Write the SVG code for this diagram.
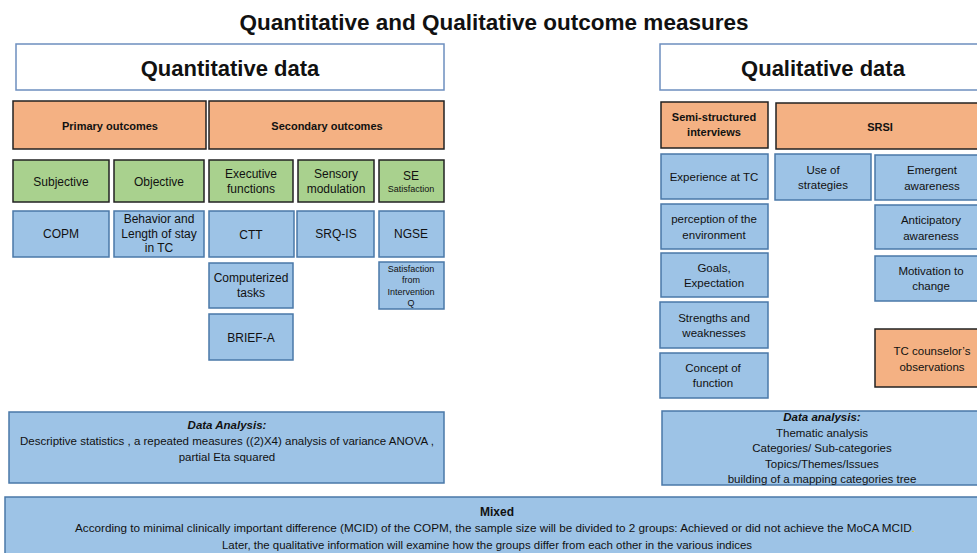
<svg xmlns="http://www.w3.org/2000/svg" width="977" height="553" viewBox="0 0 977 553">
  <style>
    text { font-family: "Liberation Sans", Arial, sans-serif; fill: #111; text-anchor: middle; }
    .title { font-size: 22.5px; font-weight: bold; }
    .head { font-size: 22px; font-weight: bold; }
    .hbox { fill: #ffffff; stroke: #6d8fbf; stroke-width: 1.5; }
    .org { fill: #f4b183; stroke: #222; stroke-width: 1.5; }
    .grn { fill: #a9d18e; stroke: #222; stroke-width: 1.5; }
    .blu { fill: #9dc3e6; stroke: #4a78a8; stroke-width: 1.5; }
    .b { font-size: 11px; font-weight: bold; }
    .t { font-size: 12px; }
    .s { font-size: 9px; }
    .n { font-size: 11.5px; }
    .bi { font-size: 11.5px; font-weight: bold; font-style: italic; }
  </style>

  <text class="title" x="494" y="30">Quantitative and Qualitative outcome measures</text>

  <!-- Quantitative side -->
  <g id="quant-head">
    <rect class="hbox" x="16" y="44" width="428" height="46"/>
    <text class="head" x="230" y="76">Quantitative data</text>
  </g>
  <g id="primary">
    <rect class="org" x="13" y="101" width="193" height="48"/>
    <text class="b" x="110" y="130">Primary outcomes</text>
  </g>
  <g id="secondary">
    <rect class="org" x="209" y="101" width="235" height="48"/>
    <text class="b" x="327" y="130">Secondary outcomes</text>
  </g>

  <g id="subjective">
    <rect class="grn" x="13" y="160" width="96" height="42"/>
    <text class="t" x="61" y="186">Subjective</text>
  </g>
  <g id="objective">
    <rect class="grn" x="114" y="160" width="90" height="42"/>
    <text class="t" x="159" y="186">Objective</text>
  </g>
  <g id="executive">
    <rect class="grn" x="209" y="160" width="84" height="42"/>
    <text class="t" x="251" y="178">Executive</text>
    <text class="t" x="251" y="193">functions</text>
  </g>
  <g id="sensory">
    <rect class="grn" x="298" y="160" width="76" height="42"/>
    <text class="t" x="336" y="178">Sensory</text>
    <text class="t" x="336" y="193">modulation</text>
  </g>
  <g id="se">
    <rect class="grn" x="379" y="160" width="65" height="42"/>
    <text class="t" x="411" y="180">SE</text>
    <text class="s" x="411" y="192">Satisfaction</text>
  </g>

  <g id="copm">
    <rect class="blu" x="13" y="211" width="96" height="46"/>
    <text class="t" x="61" y="238">COPM</text>
  </g>
  <g id="behavior">
    <rect class="blu" x="114" y="211" width="90" height="46"/>
    <text class="t" x="159" y="223">Behavior and</text>
    <text class="t" x="159" y="238">Length of stay</text>
    <text class="t" x="159" y="252">in TC</text>
  </g>
  <g id="ctt">
    <rect class="blu" x="209" y="211" width="85" height="46"/>
    <text class="t" x="251" y="239">CTT</text>
  </g>
  <g id="srq">
    <rect class="blu" x="297" y="211" width="77" height="46"/>
    <text class="t" x="336" y="238">SRQ-IS</text>
  </g>
  <g id="ngse">
    <rect class="blu" x="379" y="211" width="65" height="46"/>
    <text class="t" x="411" y="238">NGSE</text>
  </g>
  <g id="computerized">
    <rect class="blu" x="209" y="263" width="84" height="45"/>
    <text class="t" x="251" y="282">Computerized</text>
    <text class="t" x="251" y="297">tasks</text>
  </g>
  <g id="brief">
    <rect class="blu" x="209" y="314" width="84" height="46"/>
    <text class="t" x="251" y="342">BRIEF-A</text>
  </g>
  <g id="satisfaction">
    <rect class="blu" x="379" y="262" width="65" height="47"/>
    <text class="s" x="411" y="272">Satisfaction</text>
    <text class="s" x="411" y="283">from</text>
    <text class="s" x="411" y="295">Intervention</text>
    <text class="s" x="411" y="306">Q</text>
  </g>

  <g id="quant-analysis">
    <rect class="blu" x="9" y="412" width="435" height="71"/>
    <text class="bi" x="227" y="429">Data Analysis:</text>
    <text class="n" x="227" y="445" textLength="414" lengthAdjust="spacingAndGlyphs">Descriptive statistics , a repeated measures ((2)X4) analysis of variance ANOVA ,</text>
    <text class="n" x="227" y="461">partial Eta squared</text>
  </g>

  <!-- Qualitative side -->
  <g id="qual-head">
    <rect class="hbox" x="660" y="44" width="330" height="46"/>
    <text class="head" x="823" y="76">Qualitative data</text>
  </g>
  <g id="semi">
    <rect class="org" x="661" y="102" width="107" height="46"/>
    <text class="b" x="714" y="121">Semi-structured</text>
    <text class="b" x="714" y="136">interviews</text>
  </g>
  <g id="srsi">
    <rect class="org" x="776" y="103" width="214" height="46"/>
    <text class="b" x="880" y="131">SRSI</text>
  </g>

  <g id="experience">
    <rect class="blu" x="661" y="154" width="107" height="45"/>
    <text class="n" x="714" y="181">Experience at TC</text>
  </g>
  <g id="perception">
    <rect class="blu" x="661" y="204" width="107" height="45"/>
    <text class="n" x="714" y="223">perception of the</text>
    <text class="n" x="714" y="239">environment</text>
  </g>
  <g id="goals">
    <rect class="blu" x="661" y="253" width="107" height="44"/>
    <text class="n" x="714" y="272">Goals,</text>
    <text class="n" x="714" y="287">Expectation</text>
  </g>
  <g id="strengths">
    <rect class="blu" x="660" y="302" width="108" height="46"/>
    <text class="n" x="714" y="322">Strengths and</text>
    <text class="n" x="714" y="337">weaknesses</text>
  </g>
  <g id="concept">
    <rect class="blu" x="660" y="353" width="108" height="45"/>
    <text class="n" x="713" y="372">Concept of</text>
    <text class="n" x="713" y="387">function</text>
  </g>
  <g id="strategies">
    <rect class="blu" x="775" y="154" width="96" height="46"/>
    <text class="n" x="823" y="174">Use of</text>
    <text class="n" x="823" y="189">strategies</text>
  </g>
  <g id="emergent">
    <rect class="blu" x="875" y="155" width="115" height="45"/>
    <text class="n" x="932" y="174">Emergent</text>
    <text class="n" x="932" y="190">awareness</text>
  </g>
  <g id="anticipatory">
    <rect class="blu" x="875" y="205" width="115" height="44"/>
    <text class="n" x="931" y="224">Anticipatory</text>
    <text class="n" x="931" y="240">awareness</text>
  </g>
  <g id="motivation">
    <rect class="blu" x="875" y="256" width="115" height="45"/>
    <text class="n" x="931" y="275">Motivation to</text>
    <text class="n" x="931" y="290">change</text>
  </g>
  <g id="counselor">
    <rect class="org" x="875" y="329" width="115" height="58"/>
    <text class="n" x="932" y="355">TC counselor’s</text>
    <text class="n" x="932" y="371">observations</text>
  </g>

  <g id="qual-analysis">
    <rect class="blu" x="662" y="411" width="328" height="74"/>
    <text class="bi" x="822" y="421">Data analysis:</text>
    <text class="n" x="822" y="437">Thematic analysis</text>
    <text class="n" x="822" y="452">Categories/ Sub-categories</text>
    <text class="n" x="822" y="468">Topics/Themes/Issues</text>
    <text class="n" x="822" y="483">building of a mapping categories tree</text>
  </g>

  <!-- Mixed analysis band -->
  <g id="mixed">
    <rect class="blu" x="5" y="497" width="985" height="70"/>
    <text class="b" x="497" y="516" style="font-size:12px">Mixed</text>
    <text class="n" x="495" y="532" style="font-size:11px" textLength="840" lengthAdjust="spacingAndGlyphs">According to minimal clinically important difference (MCID) of the COPM, the sample size will be divided to 2 groups: Achieved or did not achieve the MoCA MCID<tspan fill="#e6c200">.</tspan></text>
    <text class="n" x="487" y="549" style="font-size:11px" textLength="530" lengthAdjust="spacingAndGlyphs">Later, the qualitative information will examine how the groups differ from each other in the various indices</text>
  </g>
</svg>
